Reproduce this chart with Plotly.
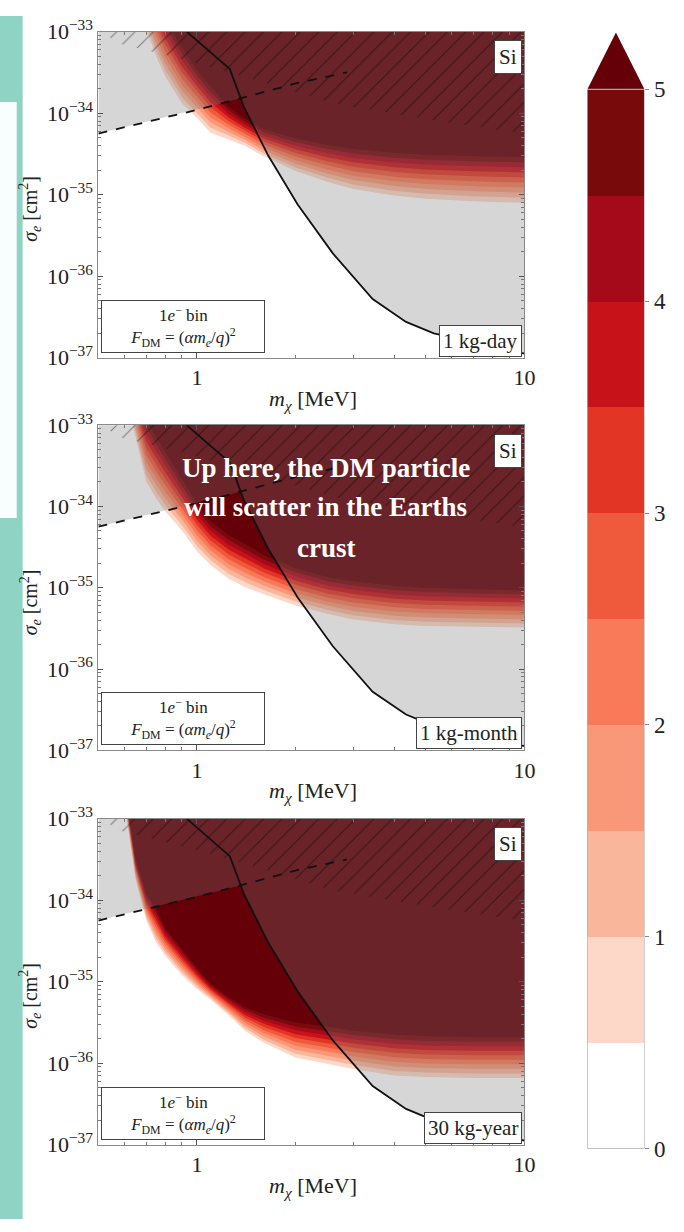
import numpy as np
import plotly.graph_objects as go

W, H = 684, 1232
SERIF = "Liberation Serif"

# ---- data -----------------------------------------------------------------
# dark-matter mass grid (MeV) on which the significance edges are tabulated
mass_grid = [0.55, 0.6, 0.65, 0.7, 0.75, 0.8, 0.9, 1.0, 1.1, 1.25, 1.4,
             1.6, 2.0, 2.5, 3.0, 4.0, 5.0, 7.0, 10.0]

# log10(sigma_e / cm^2) of the outer (level 0.5) and inner (level 5) contours
day_low = [-32.3, -32.6, -32.8, -32.97, -33.3, -33.55, -33.88, -34.06, -34.24, -34.32,
           -34.40, -34.53, -34.71, -34.84, -34.93, -35.01, -35.05, -35.08, -35.10]
day_high = [-31.8, -32.0, -32.2, -32.4, -32.6, -32.85, -33.2, -33.47, -33.68, -33.92,
            -34.07, -34.20, -34.31, -34.39, -34.44, -34.49, -34.51, -34.53, -34.54]
month_low = [-32.3, -32.6, -33.15, -33.7, -33.9, -34.06, -34.3, -34.55, -34.72, -34.89,
             -34.99, -35.08, -35.22, -35.32, -35.39, -35.45, -35.47, -35.48, -35.49]
month_high = [-32.0, -32.3, -32.6, -32.95, -33.15, -33.34, -33.68, -33.97, -34.18, -34.35,
              -34.46, -34.60, -34.76, -34.87, -34.92, -34.98, -35.00, -35.02, -35.03]
year_low = [-32.2, -32.8, -33.75, -34.25, -34.52, -34.68, -34.92, -35.09, -35.22, -35.41,
            -35.60, -35.75, -35.93, -36.01, -36.07, -36.15, -36.17, -36.18, -36.18]
year_high = [-32.0, -32.6, -33.5, -33.92, -34.1, -34.34, -34.6, -34.83, -35.02, -35.19,
             -35.31, -35.40, -35.50, -35.55, -35.60, -35.65, -35.67, -35.68, -35.68]

exposure_labels = ["1 kg-day", "1 kg-month", "30 kg-year"]

# significance levels, colours of the band above each level, and the >5 colour
levels = [0.5, 1.0, 1.5, 2.0, 2.5, 3.0, 3.5, 4.0, 4.5, 5.0]
level_colors = ["#fdd7c7", "#f9b69b", "#f89878", "#f87a58", "#f05a3c",
                "#e23526", "#c71219", "#a50a1a", "#790a0b", "#650008"]
colorbar_ticks = [0, 1, 2, 3, 4, 5]

# existing constraint (solid) and Earth-scattering ceiling (dashed)
solid_mass = [0.93, 1.26, 1.39, 1.65, 2.03, 2.60, 3.44, 4.35, 5.29, 10.0]
solid_logsig = [-33.0, -33.46, -33.92, -34.52, -35.12, -35.72, -36.28, -36.56, -36.70, -36.95]
dashed_mass = [0.5, 0.71, 1.0, 1.41, 2.03, 2.87]
dashed_logsig = [-34.25, -34.10, -33.96, -33.80, -33.63, -33.50]
# lower edge of the hatched region
hatch_mass = [0.5, 0.57, 0.95, 1.59, 2.6, 4.5, 10.0]
hatch_logsig = [-32.95, -33.14, -33.36, -33.62, -33.88, -34.04, -34.26]

# ---- layout geometry (pixels) -----------------------------------------------
X0, X1 = 100, 533
tops = [16, 419, 822]
bottoms = [350, 752, 1156]
TOP_FILL = 1e-31


def px(x):
    return x / W


def py(y):
    return 1 - y / H


fig = go.Figure()

panels = [(day_low, day_high), (month_low, month_high), (year_low, year_high)]

lm_fine = np.linspace(np.log10(0.5), 1.0, 400)
solid_fine = np.interp(lm_fine, np.log10(solid_mass), solid_logsig, left=-32.0, right=-32.0)
dashed_fine = np.interp(lm_fine, np.log10(dashed_mass), dashed_logsig, left=-32.0, right=-32.0)
gray_edge = np.minimum(solid_fine, dashed_fine)

for i, (low, high) in enumerate(panels):
    xa = "x" if i == 0 else f"x{i + 1}"
    ya = "y" if i == 0 else f"y{i + 1}"
    low = np.array(low)
    high = np.array(high)
    # stacked superlevel regions, lightest first
    for lev, col in zip(levels, level_colors):
        frac = (lev - levels[0]) / (levels[-1] - levels[0])
        edge = low + frac * (high - low)
        xs = list(mass_grid) + [mass_grid[-1], mass_grid[0], mass_grid[0]]
        ys = list(10.0 ** edge) + [TOP_FILL, TOP_FILL, 10.0 ** edge[0]]
        fig.add_trace(go.Scatter(x=xs, y=ys, mode="lines", fill="toself",
                                 fillcolor=col, line=dict(width=0, color=col),
                                 hoverinfo="skip", showlegend=False,
                                 xaxis=xa, yaxis=ya))
    # excluded region shading
    gx = list(10.0 ** lm_fine) + [10.0, 0.5, 0.5]
    gy = list(10.0 ** gray_edge) + [TOP_FILL, TOP_FILL, 10.0 ** gray_edge[0]]
    fig.add_trace(go.Scatter(x=gx, y=gy, mode="lines", fill="toself",
                             fillcolor="rgba(118,118,118,0.3)", line=dict(width=0),
                             hoverinfo="skip", showlegend=False, xaxis=xa, yaxis=ya))
    # hatched region
    hx = list(hatch_mass) + [10.0, 0.5, 0.5]
    hy = [10.0 ** v for v in hatch_logsig] + [TOP_FILL, TOP_FILL, 10.0 ** hatch_logsig[0]]
    fig.add_trace(go.Scatter(x=hx, y=hy, mode="lines", fill="toself",
                             fillcolor="rgba(0,0,0,0)", line=dict(width=0),
                             fillpattern=dict(shape="/", fgcolor="rgba(0,0,0,0.85)",
                                              bgcolor="rgba(0,0,0,0)", size=13,
                                              solidity=0.08, fillmode="overlay"),
                             hoverinfo="skip", showlegend=False, xaxis=xa, yaxis=ya))
    fig.add_trace(go.Scatter(x=solid_mass, y=[10.0 ** v for v in solid_logsig],
                             mode="lines", line=dict(color="#111", width=1.8),
                             hoverinfo="skip", showlegend=False, xaxis=xa, yaxis=ya))
    fig.add_trace(go.Scatter(x=dashed_mass, y=[10.0 ** v for v in dashed_logsig],
                             mode="lines", line=dict(color="#111", width=1.8, dash="dash"),
                             hoverinfo="skip", showlegend=False, xaxis=xa, yaxis=ya))

# colorbar drawn as stacked bars plus an extension triangle
cb_edges = [0.0] + levels
cb_colors = ["#ffffff"] + level_colors[:-1]
for base, col in zip(cb_edges[:-1], cb_colors):
    fig.add_trace(go.Bar(x=[0], y=[0.5], base=[base], width=1.0, marker=dict(color=col, line=dict(width=0)),
                         hoverinfo="skip", showlegend=False, xaxis="x4", yaxis="y4"))
tri_top = 5 + 58 / 217
fig.add_trace(go.Scatter(x=[-0.5, 0, 0.5, -0.5], y=[5, tri_top, 5, 5], mode="lines", fill="toself",
                         fillcolor=level_colors[-1], line=dict(width=0, color=level_colors[-1]),
                         hoverinfo="skip", showlegend=False, xaxis="x4", yaxis="y4"))

# ---- axes -------------------------------------------------------------------
tickfont = dict(family=SERIF, size=22, color="#222")
x_minor = [0.5, 0.6, 0.7, 0.8, 0.9, 2, 3, 4, 5, 6, 7, 8, 9]
y_minor = [k * 10.0 ** e for e in range(-37, -33) for k in range(2, 10)]
y_major = [1e-37, 1e-36, 1e-35, 1e-34, 1e-33]
y_text = ["10<sup>−37</sup>", "10<sup>−36</sup>", "10<sup>−35</sup>", "10<sup>−34</sup>", "10<sup>−33</sup>"]

layout_axes = {}
for i in range(3):
    xk = "xaxis" if i == 0 else f"xaxis{i + 1}"
    yk = "yaxis" if i == 0 else f"yaxis{i + 1}"
    ya = "y" if i == 0 else f"y{i + 1}"
    xa = "x" if i == 0 else f"x{i + 1}"
    layout_axes[xk] = dict(type="log", range=[np.log10(0.5), 1.0], domain=[px(X0), px(X1)],
                           anchor=ya, showgrid=False, zeroline=False, showline=True,
                           linecolor="#8a8a8a", linewidth=1, mirror="allticks",
                           ticks="inside", ticklen=5, tickcolor="#555",
                           tickvals=[1, 10], ticktext=["1", "10"], tickfont=tickfont,
                           minor=dict(ticks="inside", ticklen=3, tickcolor="#777",
                                      tickvals=x_minor, showgrid=False))
    layout_axes[yk] = dict(type="log", range=[-37, -33], domain=[py(bottoms[i]), py(tops[i])],
                           anchor=xa, showgrid=False, zeroline=False, showline=True,
                           linecolor="#8a8a8a", linewidth=1, mirror="allticks",
                           ticks="inside", ticklen=5, tickcolor="#555",
                           tickvals=y_major, ticktext=y_text, tickfont=tickfont,
                           minor=dict(ticks="inside", ticklen=3, tickcolor="#777",
                                      tickvals=y_minor, showgrid=False))

layout_axes["xaxis4"] = dict(domain=[px(597), px(655)], range=[-0.5, 0.5], anchor="y4",
                             visible=False, fixedrange=True)
layout_axes["yaxis4"] = dict(domain=[py(1160), py(17)], range=[0, tri_top], anchor="x4",
                             side="right", showgrid=False, zeroline=False, showline=False,
                             ticks="outside", ticklen=4, tickcolor="#888",
                             tickvals=colorbar_ticks, ticktext=[str(t) for t in colorbar_ticks],
                             tickfont=dict(family=SERIF, size=23, color="#222"))

# ---- annotations ------------------------------------------------------------
annotations = []
for i in range(3):
    t, b = tops[i], bottoms[i]
    annotations.append(dict(x=px(531), y=py(t + 9), xref="paper", yref="paper",
                            xanchor="right", yanchor="top", text="Si", showarrow=False,
                            font=dict(family=SERIF, size=21, color="#222"),
                            bgcolor="white", bordercolor="#444", borderwidth=1, borderpad=4))
    annotations.append(dict(x=px(531), y=py(b - 1), xref="paper", yref="paper",
                            xanchor="right", yanchor="bottom", text=exposure_labels[i],
                            showarrow=False, font=dict(family=SERIF, size=21, color="#222"),
                            bgcolor="white", bordercolor="#444", borderwidth=1, borderpad=3))
    annotations.append(dict(x=px(103), y=py(b - 5), xref="paper", yref="paper",
                            xanchor="left", yanchor="bottom",
                            text="1<i>e</i><sup>−</sup> bin<br><i>F</i><sub>DM</sub> = (<i>αm<sub>e</sub></i>/<i>q</i>)<sup>2</sup>",
                            showarrow=False, align="center", width=158,
                            font=dict(family=SERIF, size=17, color="#222"),
                            bgcolor="white", bordercolor="#444", borderwidth=1, borderpad=2))
    annotations.append(dict(x=px(318), y=py(b + 43), xref="paper", yref="paper",
                            xanchor="center", yanchor="middle",
                            text="<i>m</i><sub><i>χ</i></sub> [MeV]", showarrow=False,
                            font=dict(family=SERIF, size=22, color="#222")))
    annotations.append(dict(x=px(31), y=py(t + 182), xref="paper", yref="paper",
                            xanchor="center", yanchor="middle", textangle=-90,
                            text="<i>σ<sub>e</sub></i> [cm<sup>2</sup>]", showarrow=False,
                            font=dict(family=SERIF, size=20, color="#222")))

for txt, yy in [("Up here, the DM particle", 463), ("will scatter in the Earths", 503), ("crust", 545)]:
    annotations.append(dict(x=px(331), y=py(yy), xref="paper", yref="paper",
                            xanchor="center", yanchor="middle", text=f"<b>{txt}</b>",
                            showarrow=False, font=dict(family=SERIF, size=27, color="white")))

shapes = [
    dict(type="rect", xref="paper", yref="paper", x0=0, x1=px(23), y0=0, y1=1,
         fillcolor="#8fd3c5", line=dict(width=0), layer="below"),
    dict(type="rect", xref="paper", yref="paper", x0=0, x1=px(17), y0=py(514), y1=py(88),
         fillcolor="#f8fdfd", line=dict(width=0), layer="below"),
    dict(type="rect", xref="x4", yref="y4", x0=-0.5, x1=0.5, y0=0, y1=5,
         line=dict(color="#9a9a9a", width=1), fillcolor="rgba(0,0,0,0)"),
]

fig.update_layout(width=W, height=H, margin=dict(l=0, r=0, t=0, b=0),
                  paper_bgcolor="white", plot_bgcolor="white", barmode="overlay",
                  bargap=0, showlegend=False, annotations=annotations, shapes=shapes,
                  **layout_axes)

fig.write_html("out.html")
